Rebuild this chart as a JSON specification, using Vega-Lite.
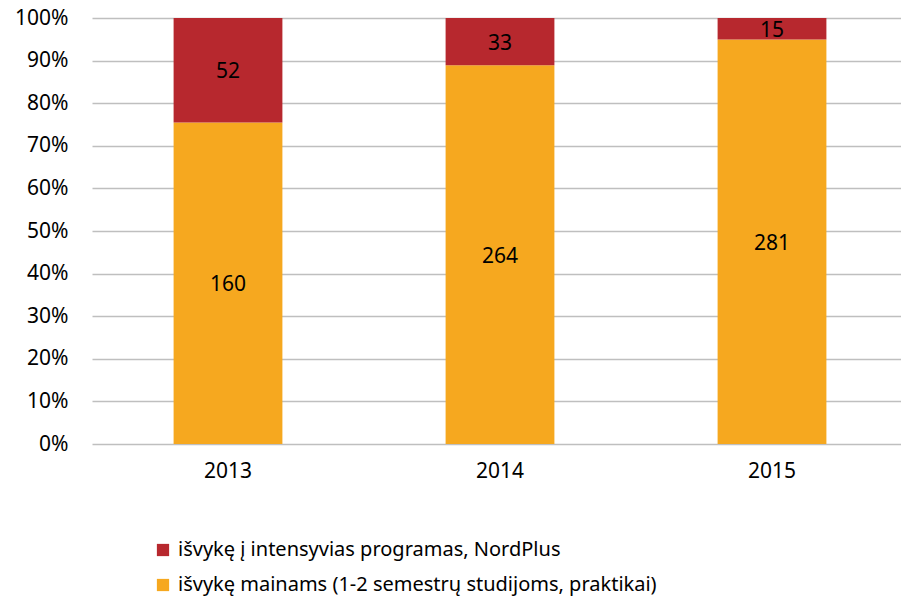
{
  "$schema": "https://vega.github.io/schema/vega-lite/v6.json",
  "width": 808,
  "height": 426,
  "autosize": "none",
  "padding": {"left": 92, "top": 18, "right": 1, "bottom": 154},
  "background": "white",
  "config": {
    "view": {"stroke": null},
    "font": "Noto Sans"
  },
  "data": {
    "values": [
      {"year": "2013", "type": "išvykę mainams (1-2 semestrų studijoms, praktikai)", "count": 160, "ord": 1},
      {"year": "2013", "type": "išvykę į intensyvias programas, NordPlus", "count": 52, "ord": 2},
      {"year": "2014", "type": "išvykę mainams (1-2 semestrų studijoms, praktikai)", "count": 264, "ord": 1},
      {"year": "2014", "type": "išvykę į intensyvias programas, NordPlus", "count": 33, "ord": 2},
      {"year": "2015", "type": "išvykę mainams (1-2 semestrų studijoms, praktikai)", "count": 281, "ord": 1},
      {"year": "2015", "type": "išvykę į intensyvias programas, NordPlus", "count": 15, "ord": 2}
    ]
  },
  "transform": [
    {"stack": "count", "groupby": ["year"], "sort": [{"field": "ord", "order": "ascending"}], "offset": "normalize", "as": ["y0", "y1"]},
    {"calculate": "(datum.y0 + datum.y1) / 2", "as": "ymid"}
  ],
  "encoding": {
    "x": {
      "field": "year", "type": "nominal",
      "scale": {"paddingInner": 0.6, "paddingOuter": 0.3, "range": [0, 816]},
      "axis": {"title": null, "labelAngle": 0, "ticks": false, "domain": false, "labelFontSize": 21, "labelColor": "#000", "labelPadding": 16}
    }
  },
  "layer": [
    {
      "mark": {"type": "bar"},
      "encoding": {
        "y": {
          "field": "y0", "type": "quantitative",
          "scale": {"domain": [0, 1]},
          "axis": {"title": null, "format": ".0%", "values": [0, 0.1, 0.2, 0.3, 0.4, 0.5, 0.6, 0.7, 0.8, 0.9, 1], "ticks": false, "domain": false, "grid": true, "gridColor": "#BFBFBF", "gridWidth": 1.5, "labelFontSize": 21, "labelColor": "#000", "labelPadding": 24}
        },
        "y2": {"field": "y1"},
        "color": {
          "field": "type", "type": "nominal",
          "scale": {
            "domain": ["išvykę į intensyvias programas, NordPlus", "išvykę mainams (1-2 semestrų studijoms, praktikai)"],
            "range": ["#B7282E", "#F6A81F"]
          },
          "legend": {
            "title": null, "orient": "none", "legendX": 61, "legendY": 522,
            "direction": "vertical", "symbolType": "square", "symbolSize": 150,
            "symbolStrokeWidth": 0, "labelFontSize": 20, "labelColor": "#000",
            "rowPadding": 15, "labelOffset": 5, "labelLimit": 800
          }
        }
      }
    },
    {
      "mark": {"type": "text", "fontSize": 21, "color": "#000", "baseline": "middle", "dy": 2},
      "encoding": {
        "y": {"field": "ymid", "type": "quantitative"},
        "text": {"field": "count", "type": "quantitative"}
      }
    }
  ]
}
